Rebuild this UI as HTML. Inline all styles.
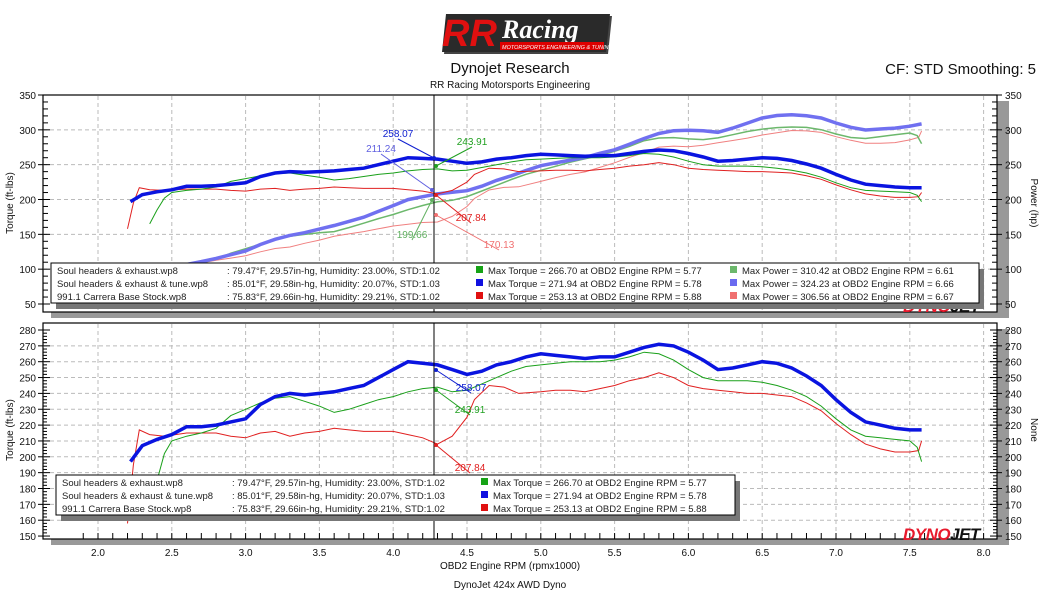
<!DOCTYPE html>
<html><head><meta charset="utf-8"><style>
html,body{margin:0;padding:0;background:#fff;width:1051px;height:591px;overflow:hidden}
svg{display:block;font-family:"Liberation Sans","DejaVu Sans",sans-serif}
</style></head><body>
<svg id="s" width="1051" height="591" xmlns="http://www.w3.org/2000/svg">
<g transform="translate(440,10)">
<polygon points="8,6 172,6 168,44 4,44" fill="#444"/>
<polygon points="6,4 170,4 166,42 2,42" fill="#2a2a2a"/>
<text x="2" y="36" font-size="38" font-weight="bold" font-style="italic" fill="#e01010" font-family="Liberation Sans,sans-serif">RR</text>
<text x="62" y="28" font-size="26" font-style="italic" font-weight="bold" fill="#fff" font-family="Liberation Serif,serif">Racing</text>
<rect x="60" y="32" width="104" height="8" fill="#d00"/>
<text x="62" y="39" font-size="5.5" fill="#fff" font-style="italic">MOTORSPORTS ENGINEERING &amp; TUNING SINCE 2001</text>
</g>
<text x="510" y="73" font-size="15" text-anchor="middle" fill="#111">Dynojet Research</text>
<text x="510" y="88" font-size="10" text-anchor="middle" fill="#111">RR Racing Motorsports Engineering</text>
<text x="1036" y="74" font-size="15" text-anchor="end" fill="#111">CF: STD Smoothing: 5</text>
<g id="g"></g>
<text x="510" y="569" font-size="10" text-anchor="middle" fill="#111">OBD2 Engine RPM (rpmx1000)</text>
<text x="510" y="588" font-size="10" text-anchor="middle" fill="#111">DynoJet 424x AWD Dyno</text>
</svg>
<script>
var g=document.getElementById('g'),h='';
function X(r){return 98+(r-2)*147.6}
var L=43,R=997;
function YT(v){return 95+(350-v)*0.6967}
function YB(v){return 330+(280-v)*1.585}
h+='<rect x="'+(L+8)+'" y="101" width="'+(R-L+4)+'" height="217" fill="#999"/>';
h+='<rect x="'+(L+8)+'" y="329" width="'+(R-L+4)+'" height="216" fill="#999"/>';
h+='<rect x="'+L+'" y="95" width="'+(R-L)+'" height="217" fill="#fff" stroke="#000" stroke-width="1.2"/>';
h+='<rect x="'+L+'" y="323" width="'+(R-L)+'" height="216" fill="#fff" stroke="#000" stroke-width="1.2"/>';
for(var r=2;r<=8.01;r+=0.5){var x=X(r);
 h+='<line x1="'+x+'" y1="96" x2="'+x+'" y2="311" stroke="#bbb" stroke-dasharray="4,3"/>';
 h+='<line x1="'+x+'" y1="324" x2="'+x+'" y2="538" stroke="#bbb" stroke-dasharray="4,3"/>';
 h+='<text x="'+x+'" y="556" font-size="10" text-anchor="middle" fill="#111">'+r.toFixed(1)+'</text>';}
for(var r=1.9;r<=8.0;r+=0.1){var x=X(r);h+='<line x1="'+x+'" y1="539" x2="'+x+'" y2="533" stroke="#000"/>';}
for(var v=50;v<=350;v+=50){var y=YT(v);
 if(v>50&&v<350)h+='<line x1="'+L+'" y1="'+y+'" x2="'+R+'" y2="'+y+'" stroke="#bbb" stroke-dasharray="4,3"/>';
 h+='<line x1="'+(L-5)+'" y1="'+y+'" x2="'+(L+7)+'" y2="'+y+'" stroke="#000"/>';
 h+='<line x1="'+(R-7)+'" y1="'+y+'" x2="'+(R+5)+'" y2="'+y+'" stroke="#000"/>';
 h+='<text x="'+(L-7)+'" y="'+(y+4)+'" font-size="10" text-anchor="end" fill="#111">'+v+'</text>';
 h+='<text x="'+(R+8)+'" y="'+(y+4)+'" font-size="10" fill="#111">'+v+'</text>';}
for(var v=60;v<350;v+=10){if(v%50){var y=YT(v);h+='<line x1="'+L+'" y1="'+y+'" x2="'+(L+5)+'" y2="'+y+'" stroke="#000"/><line x1="'+(R-5)+'" y1="'+y+'" x2="'+R+'" y2="'+y+'" stroke="#000"/>';}}
for(var v=150;v<=280;v+=10){var y=YB(v);
 if(v>150&&v<280)h+='<line x1="'+L+'" y1="'+y+'" x2="'+R+'" y2="'+y+'" stroke="#bbb" stroke-dasharray="4,3"/>';
 h+='<line x1="'+(L-5)+'" y1="'+y+'" x2="'+(L+7)+'" y2="'+y+'" stroke="#000"/>';
 h+='<line x1="'+(R-7)+'" y1="'+y+'" x2="'+(R+5)+'" y2="'+y+'" stroke="#000"/>';
 h+='<text x="'+(L-7)+'" y="'+(y+4)+'" font-size="10" text-anchor="end" fill="#111">'+v+'</text>';
 h+='<text x="'+(R+8)+'" y="'+(y+4)+'" font-size="10" fill="#111">'+v+'</text>';}
for(var v=152;v<280;v+=2){if(v%10){var y=YB(v);h+='<line x1="'+L+'" y1="'+y+'" x2="'+(L+4)+'" y2="'+y+'" stroke="#000"/><line x1="'+(R-4)+'" y1="'+y+'" x2="'+R+'" y2="'+y+'" stroke="#000"/>';}}
h+='<text transform="translate(13,203) rotate(-90)" font-size="10" text-anchor="middle" fill="#111">Torque (ft-lbs)</text>';
h+='<text transform="translate(1031,203) rotate(90)" font-size="10" text-anchor="middle" fill="#111">Power (hp)</text>';
h+='<text transform="translate(13,430) rotate(-90)" font-size="10" text-anchor="middle" fill="#111">Torque (ft-lbs)</text>';
h+='<text transform="translate(1031,430) rotate(90)" font-size="10" text-anchor="middle" fill="#111">None</text>';
var B=[[2.22,197],[2.3,207],[2.4,211],[2.5,214],[2.6,219],[2.7,219],[2.8,220],[2.9,222],[3.0,224],[3.1,233],[3.2,238],[3.3,240],[3.4,239],[3.5,240],[3.6,241],[3.7,243],[3.8,245],[3.9,250],[4.0,255],[4.1,260],[4.2,259],[4.3,258],[4.4,255],[4.5,252],[4.6,254],[4.7,258],[4.8,260],[4.9,263],[5.0,265],[5.1,264],[5.2,263],[5.3,262],[5.4,263],[5.5,263],[5.6,266],[5.7,269],[5.8,271],[5.9,270],[6.0,266],[6.1,261],[6.2,255],[6.3,256],[6.4,258],[6.5,260],[6.6,259],[6.7,256],[6.8,251],[6.9,245],[7.0,236],[7.1,228],[7.2,222],[7.3,220],[7.4,218],[7.5,217],[7.58,217]];
var G=[[2.35,165],[2.4,185],[2.45,202],[2.5,210],[2.6,213],[2.7,215],[2.8,218],[2.9,226],[3.0,230],[3.1,234],[3.2,237],[3.3,238],[3.4,235],[3.5,232],[3.6,228],[3.7,230],[3.8,233],[3.9,236],[4.0,238],[4.1,241],[4.2,243],[4.3,244],[4.4,241],[4.5,242],[4.6,246],[4.7,250],[4.8,254],[4.9,257],[5.0,258],[5.1,259],[5.2,260],[5.3,260],[5.4,260],[5.5,261],[5.6,263],[5.7,266],[5.8,265],[5.9,261],[6.0,255],[6.1,250],[6.2,248],[6.3,248],[6.4,248],[6.5,247],[6.6,245],[6.7,242],[6.8,238],[6.9,232],[7.0,224],[7.1,217],[7.2,213],[7.3,212],[7.4,211],[7.5,210],[7.55,206],[7.58,197]];
var Rd=[[2.2,158],[2.24,195],[2.28,217],[2.35,214],[2.45,213],[2.6,215],[2.8,215],[2.9,213],[3.0,212],[3.1,215],[3.2,216],[3.3,213],[3.4,215],[3.5,216],[3.6,218],[3.7,217],[3.8,216],[3.9,216],[4.0,216],[4.1,214],[4.2,212],[4.3,208],[4.4,213],[4.5,225],[4.55,236],[4.65,245],[4.75,244],[4.85,240],[5.0,241],[5.1,242],[5.2,242],[5.3,241],[5.4,243],[5.5,245],[5.6,248],[5.7,250],[5.8,253],[5.9,250],[6.0,245],[6.1,243],[6.2,242],[6.3,241],[6.4,240],[6.5,240],[6.6,239],[6.7,238],[6.8,234],[6.9,229],[7.0,221],[7.1,214],[7.2,208],[7.3,205],[7.4,203],[7.5,203],[7.56,204],[7.58,210]];
function P(d,Y,pw){return d.map(function(p,i){var v=pw?p[1]*p[0]*1000/5252*0.985:p[1];return(i?'L':'M')+X(p[0]).toFixed(1)+','+Y(v).toFixed(1)}).join('')}
h+='<clipPath id="ct"><rect x="'+L+'" y="95" width="'+(R-L)+'" height="217"/></clipPath><clipPath id="cb"><rect x="'+L+'" y="323" width="'+(R-L)+'" height="216"/></clipPath>';
h+='<g clip-path="url(#ct)" fill="none">';
h+='<path d="'+P(Rd,YT,1)+'" stroke="#f08080" stroke-width="1"/>';
h+='<path d="'+P(G,YT,1)+'" stroke="#6cb86c" stroke-width="1.5"/>';
h+='<path d="'+P(B,YT,1)+'" stroke="#7070f0" stroke-width="3.5"/>';
h+='<path d="'+P(Rd,YT)+'" stroke="#e02020" stroke-width="1"/>';
h+='<path d="'+P(G,YT)+'" stroke="#1aa01a" stroke-width="1"/>';
h+='<path d="'+P(B,YT)+'" stroke="#0a14e0" stroke-width="3.5"/>';
h+='</g><g clip-path="url(#cb)" fill="none">';
h+='<path d="'+P(Rd,YB)+'" stroke="#e02020" stroke-width="1"/>';
h+='<path d="'+P(G,YB)+'" stroke="#1aa01a" stroke-width="1"/>';
h+='<path d="'+P(B,YB)+'" stroke="#0a14e0" stroke-width="3.5"/>';
h+='</g>';
h+='<line x1="434" y1="95" x2="434" y2="312" stroke="#000"/><line x1="434" y1="323" x2="434" y2="539" stroke="#000"/>';
function ann(t,x,y,ax,ay,c){h+='<line x1="'+x+'" y1="'+y+'" x2="'+ax+'" y2="'+ay+'" stroke="'+c+'"/><circle cx="'+ax+'" cy="'+ay+'" r="2" fill="'+c+'"/><text x="'+x+'" y="'+(y-2)+'" font-size="10" text-anchor="middle" fill="'+c+'">'+t+'</text>';}
ann('258.07',398,139,434,158,'#1020d0');
ann('211.24',381,154,432,190,'#6060e0');
ann('243.91',472,147,436,166,'#20a020');
ann('199.66',412,240,432,200,'#60b060');
ann('207.84',471,223,436,195,'#e02020');
ann('170.13',499,250,436,215,'#f07070');
ann('258.07',471,393,436,370,'#1020d0');
ann('243.91',470,415,436,390,'#20a020');
ann('207.84',470,473,436,445,'#e02020');
function dj(x,y){h+='<text x="'+x+'" y="'+y+'" font-size="17" font-weight="bold" font-style="italic" fill="#e8192c" letter-spacing="-0.5">DYNO<tspan fill="#111">JET</tspan></text>';}
dj(903,312);dj(903,540);
function leg(x,y,w,rows,wide){
 h+='<rect x="'+(x+5)+'" y="'+(y+6)+'" width="'+w+'" height="40" fill="#777"/>';
 h+='<rect x="'+x+'" y="'+y+'" width="'+w+'" height="40" fill="#fff" stroke="#000"/>';
 rows.forEach(function(r,i){var yy=y+11+i*13;
  h+='<text x="'+(x+6)+'" y="'+yy+'" font-size="9.5" fill="#222">'+r[0]+'</text>';
  h+='<text x="'+(x+176)+'" y="'+yy+'" font-size="9.5" fill="#222">'+r[1]+'</text>';
  h+='<rect x="'+(x+425)+'" y="'+(yy-8)+'" width="7" height="7" fill="'+r[2]+'"/>';
  h+='<text x="'+(x+437)+'" y="'+yy+'" font-size="9.5" fill="#222">'+r[3]+'</text>';
  if(wide){h+='<rect x="'+(x+679)+'" y="'+(yy-8)+'" width="7" height="7" fill="'+r[4]+'"/>';
  h+='<text x="'+(x+691)+'" y="'+yy+'" font-size="9.5" fill="#222">'+r[5]+'</text>';}
 });}
var rows=[['Soul headers &amp; exhaust.wp8',': 79.47°F, 29.57in-hg, Humidity: 23.00%, STD:1.02','#16a316','Max Torque = 266.70 at OBD2 Engine RPM = 5.77','#6cb86c','Max Power = 310.42 at OBD2 Engine RPM = 6.61'],
['Soul headers &amp; exhaust &amp; tune.wp8',': 85.01°F, 29.58in-hg, Humidity: 20.07%, STD:1.03','#1010e0','Max Torque = 271.94 at OBD2 Engine RPM = 5.78','#6a6af0','Max Power = 324.23 at OBD2 Engine RPM = 6.66'],
['991.1 Carrera Base Stock.wp8',': 75.83°F, 29.66in-hg, Humidity: 29.21%, STD:1.02','#e01010','Max Torque = 253.13 at OBD2 Engine RPM = 5.88','#f07070','Max Power = 306.56 at OBD2 Engine RPM = 6.67']];
leg(51,263,928,rows,1);
leg(56,475,679,rows,0);
g.innerHTML=h;
</script>
</body></html>
